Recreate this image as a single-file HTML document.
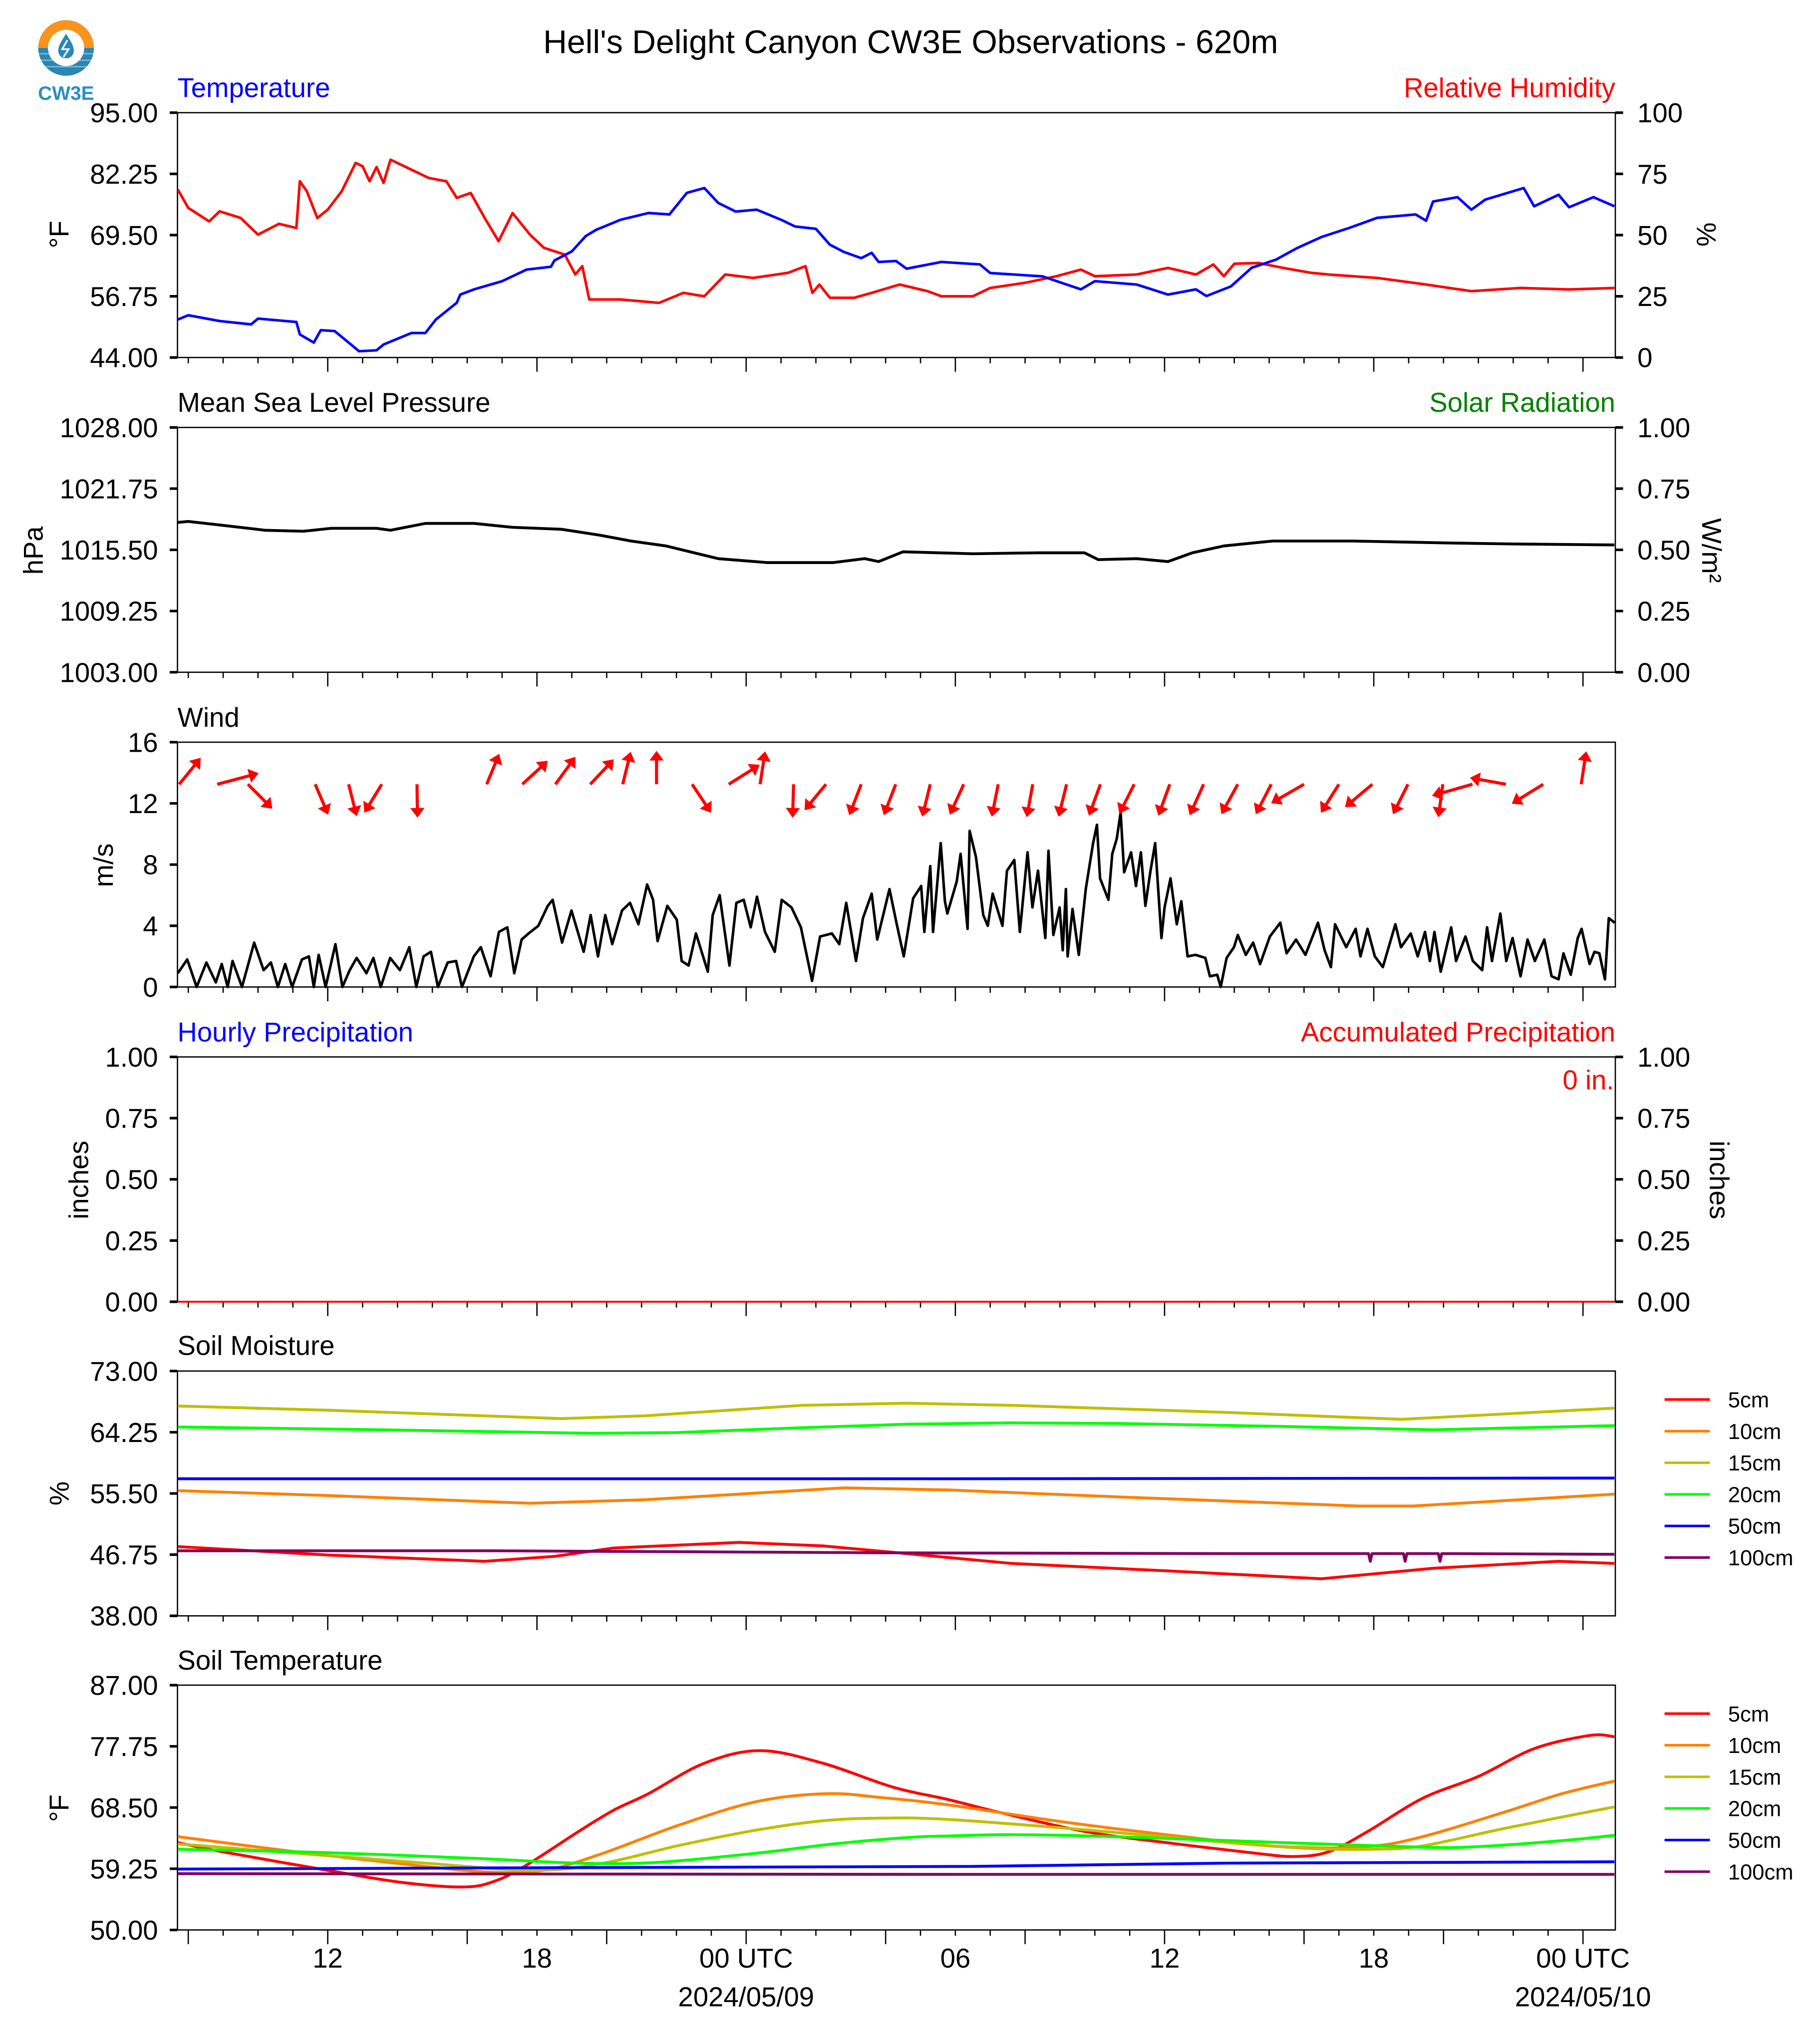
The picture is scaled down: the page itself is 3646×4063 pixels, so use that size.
<!DOCTYPE html>
<html><head><meta charset="utf-8"><title>Hell's Delight Canyon CW3E Observations</title>
<style>
html,body{margin:0;padding:0;background:#fff;}
svg{display:block;font-family:"Liberation Sans",sans-serif;}
</style></head>
<body>
<svg id="fig" xmlns="http://www.w3.org/2000/svg" width="3646" height="4063" viewBox="0 0 1405 1565.7" preserveAspectRatio="none">
<rect x="0" y="0" width="1405" height="1566" fill="#fff"/>
<g>
  <clipPath id="logoClip"><circle cx="51" cy="37" r="21.5"/></clipPath>
  <g clip-path="url(#logoClip)">
    <rect x="29" y="15" width="44" height="22" fill="#f7941d"/>
    <rect x="29" y="37" width="44" height="22" fill="#2a86b3"/>
    <rect x="29" y="41" width="44" height="1" fill="#7fbcd8"/>
    <rect x="29" y="46" width="44" height="1" fill="#7fbcd8"/>
    <rect x="29" y="51" width="44" height="1" fill="#7fbcd8"/>
  </g>
  <circle cx="51" cy="37" r="14" fill="#fff"/>
  <path d="M51 26 C48 31 45 35 45 39 C45 43 48 45 51 45 C54 45 57 43 57 39 C57 35 54 31 51 26 Z" fill="#2a86b3"/>
  <path d="M52 31 L48 38 L53 38 L49 44" stroke="#fff" stroke-width="1.3" fill="none"/>
  <text x="51" y="77" text-anchor="middle" font-size="15" font-weight="bold" fill="#2a8fc0">CW3E</text>
</g>
<text x="703" y="41" text-anchor="middle" font-size="25.5" fill="#000">Hell's Delight Canyon CW3E Observations - 620m</text>
<g id="layer"></g>
</svg>
<script>
// ---------------- data (time in hours since 2024-05-08 00 UTC) ----------------
const tempSeries = [[7.7,51.9],[8.0,52.8],[8.9,51.6],[9.8,50.9],[10.0,52.1],[11.1,51.4],[11.2,48.8],[11.6,47.1],[11.8,49.7],[12.2,49.5],[12.9,45.3],[13.4,45.5],[13.6,46.7],[14.4,49.1],[14.8,49.1],[15.1,51.9],[15.7,55.4],[15.8,57.1],[16.2,58.2],[17.0,59.9],[17.7,62.3],[18.4,62.9],[18.5,64.2],[19.0,66.1],[19.4,69.3],[19.7,70.6],[20.4,72.7],[21.2,74.1],[21.8,73.8],[22.3,78.3],[22.8,79.3],[23.2,76.2],[23.7,74.4],[24.3,74.8],[25.0,72.7],[25.4,71.3],[26.0,70.8],[26.4,67.5],[26.8,66.0],[27.3,64.7],[27.6,65.8],[27.8,63.9],[28.3,64.1],[28.6,62.5],[29.6,63.9],[30.7,63.4],[31.0,61.6],[32.5,60.9],[33.6,58.2],[34.0,59.9],[35.2,59.2],[36.1,57.1],[36.9,58.2],[37.2,56.8],[37.9,58.8],[38.5,62.7],[39.2,64.4],[39.8,66.8],[40.5,69.1],[41.3,71.0],[42.1,73.1],[43.2,73.8],[43.5,72.5],[43.7,76.5],[44.4,77.4],[44.8,74.8],[45.2,76.9],[46.3,79.3],[46.6,75.5],[47.3,77.9],[47.6,75.3],[48.3,77.4],[48.9,75.5]];
const rhSeries = [[7.7,68.6],[8.0,61.1],[8.6,55.6],[8.9,59.7],[9.5,57.0],[10.0,50.2],[10.6,54.6],[11.1,52.9],[11.2,72.0],[11.4,67.9],[11.7,57.0],[12.0,60.4],[12.4,67.9],[12.8,79.5],[13.0,78.1],[13.2,72.0],[13.4,77.8],[13.6,71.3],[13.8,80.8],[14.3,77.4],[14.9,73.3],[15.4,72.0],[15.7,65.2],[16.1,67.2],[16.5,57.0],[16.9,47.5],[17.3,59.0],[17.8,50.2],[18.2,44.8],[18.8,42.0],[19.1,33.9],[19.3,37.3],[19.5,23.7],[20.4,23.7],[21.5,22.3],[22.2,26.4],[22.8,25.0],[23.4,33.9],[24.2,32.5],[25.2,34.6],[25.7,37.3],[25.9,26.4],[26.1,29.8],[26.4,24.4],[27.1,24.4],[27.6,26.4],[28.4,29.8],[29.2,27.1],[29.6,25.0],[30.5,25.0],[31.0,28.4],[32.0,30.5],[32.9,33.2],[33.6,35.9],[34.0,33.2],[35.2,33.9],[36.1,36.6],[36.9,33.9],[37.4,38.0],[37.7,33.2],[38.0,38.3],[38.7,38.6],[39.4,36.6],[40.2,34.6],[40.7,33.9],[42.1,32.5],[43.5,29.8],[44.8,27.1],[46.2,28.4],[47.6,27.8],[48.9,28.4]];
const pressureSeries = [[7.7,1018.3],[8.0,1018.4],[9.0,1018.0],[10.2,1017.5],[11.3,1017.4],[12.1,1017.7],[13.4,1017.7],[13.8,1017.5],[14.8,1018.2],[16.2,1018.2],[17.3,1017.8],[18.7,1017.6],[19.8,1017.0],[20.7,1016.4],[21.7,1015.9],[23.2,1014.6],[24.6,1014.2],[26.5,1014.2],[27.4,1014.6],[27.8,1014.3],[28.5,1015.3],[30.5,1015.1],[32.4,1015.2],[33.7,1015.2],[34.1,1014.5],[35.2,1014.6],[36.1,1014.3],[36.8,1015.2],[37.7,1015.9],[39.1,1016.4],[41.4,1016.4],[44.2,1016.2],[46.0,1016.1],[48.9,1016.0]];
const windSpeedSeries = [[7.70,0.9],[7.97,1.8],[8.24,0],[8.52,1.6],[8.79,0.3],[8.96,1.5],[9.13,0],[9.27,1.7],[9.54,0],[9.89,2.9],[10.16,1.1],[10.37,1.6],[10.57,0],[10.78,1.5],[10.98,0],[11.26,1.8],[11.46,2.0],[11.60,0],[11.74,2.1],[11.94,0],[12.22,2.8],[12.42,0],[12.63,1.1],[12.83,1.9],[13.11,0.9],[13.31,1.9],[13.52,0],[13.79,1.9],[14.07,1.1],[14.34,2.6],[14.54,0],[14.75,2.0],[14.96,2.3],[15.16,0],[15.44,1.6],[15.68,1.7],[15.85,0],[16.19,2.0],[16.39,2.6],[16.67,0.7],[16.91,3.6],[17.15,3.9],[17.35,0.9],[17.56,3.1],[17.76,3.5],[18.04,4.0],[18.31,5.3],[18.45,5.7],[18.72,2.9],[18.99,5.0],[19.34,2.3],[19.54,4.7],[19.75,2.0],[19.96,4.7],[20.16,2.8],[20.44,5.0],[20.67,5.5],[20.91,4.1],[21.16,6.7],[21.33,5.7],[21.46,3.0],[21.74,5.3],[22.01,4.4],[22.15,1.7],[22.35,1.4],[22.56,3.5],[22.90,1.0],[23.04,4.7],[23.24,6.0],[23.52,1.4],[23.72,5.5],[23.93,5.7],[24.13,3.9],[24.31,5.9],[24.54,3.6],[24.82,2.3],[25.02,5.7],[25.30,5.2],[25.57,3.9],[25.89,0.4],[26.12,3.3],[26.46,3.5],[26.67,2.8],[26.87,5.5],[27.15,1.7],[27.35,4.5],[27.60,6.1],[27.76,3.1],[28.11,6.4],[28.31,4.2],[28.52,2.0],[28.79,5.8],[29.02,6.6],[29.11,3.6],[29.28,7.9],[29.36,3.6],[29.58,9.4],[29.70,5.6],[29.77,4.8],[30.04,6.9],[30.15,8.7],[30.35,3.8],[30.41,10.2],[30.59,8.5],[30.80,4.7],[30.93,4.0],[31.07,6.1],[31.35,4.0],[31.48,7.6],[31.69,8.3],[31.85,3.6],[32.07,8.8],[32.21,5.2],[32.37,7.6],[32.58,3.2],[32.67,8.9],[32.81,3.4],[32.99,5.2],[33.08,2.4],[33.17,6.4],[33.22,2.0],[33.36,5.1],[33.54,2.1],[33.74,6.4],[33.95,9.4],[34.06,10.6],[34.15,7.1],[34.39,5.7],[34.50,8.7],[34.63,9.7],[34.74,11.4],[34.84,7.5],[35.04,8.8],[35.18,6.6],[35.32,8.8],[35.45,5.3],[35.59,7.5],[35.73,9.4],[35.91,3.2],[36.00,5.2],[36.17,7.1],[36.35,4.1],[36.48,5.6],[36.66,2.0],[36.89,2.1],[37.17,1.9],[37.30,0.7],[37.51,0.8],[37.61,0],[37.78,1.9],[37.99,2.6],[38.10,3.4],[38.33,2.1],[38.54,2.9],[38.74,1.5],[39.02,3.3],[39.32,4.2],[39.50,2.2],[39.77,3.1],[40.04,2.1],[40.40,4.2],[40.59,2.4],[40.77,1.3],[40.89,4.1],[41.21,2.6],[41.48,3.8],[41.62,2.0],[41.82,3.8],[42.03,2.0],[42.26,1.3],[42.62,4.1],[42.78,2.6],[43.06,3.5],[43.26,2.0],[43.47,3.6],[43.61,1.7],[43.74,3.6],[43.92,1.0],[44.22,3.9],[44.36,1.7],[44.63,3.3],[44.84,1.7],[45.11,1.1],[45.25,3.9],[45.39,1.7],[45.63,4.8],[45.80,1.7],[45.98,3.2],[46.21,0.7],[46.41,3.1],[46.62,1.7],[46.89,3.1],[47.10,0.7],[47.30,0.5],[47.44,2.2],[47.65,0.8],[47.85,3.2],[47.96,3.8],[48.19,1.5],[48.33,2.3],[48.47,2.2],[48.63,0.5],[48.74,4.5],[48.91,4.2]];
const windArrowTimes = [7.74,8.83,9.71,11.64,12.60,13.55,14.56,16.56,17.58,18.53,19.53,20.46,21.43,22.45,23.50,24.40,25.36,26.29,27.30,28.29,29.28,30.24,31.23,32.22,33.19,34.16,35.13,36.15,37.12,38.10,39.06,40.00,41.00,41.96,42.98,43.98,44.83,45.79,46.86,47.95];
const windArrowU = [4.3,8.3,4.9,2.6,1.6,-3.5,0.1,2.5,5.1,4.0,4.7,1.6,0,3.8,6.2,1.0,-0.2,-4.3,-2.4,-2.4,-1.6,-2.8,-1.3,-1.2,-1.6,-2.3,-3.0,-2.3,-2.8,-3.3,-3.1,-6.6,-3.6,-5.5,-3.0,-0.9,-8.1,-7.2,-6.3,1.0];
const windArrowV = [5.3,2.2,-4.9,-6.1,-6.4,-5.7,-6.7,6.1,4.7,5.5,5.0,6.5,6.7,-5.7,3.9,6.6,-6.7,-5.2,-6.2,-6.2,-6.5,-6.1,-6.5,-6.6,-6.5,-6.3,-5.9,-6.3,-6.2,-6.0,-6.0,-3.8,-5.7,-4.6,-6.0,-6.6,-2.3,1.3,-3.9,6.6];
const hourlyPrecipSeries = [[7.7,0],[48.9,0]];
const soilMoistureLabels = ["5cm","10cm","15cm","20cm","50cm","100cm"];
const sm5 = [[7.7,47.9],[12.0,46.7],[16.5,45.8],[18.5,46.5],[20.2,47.7],[23.8,48.5],[26.2,48.0],[28.6,46.9],[31.6,45.5],[36.2,44.4],[40.5,43.3],[43.7,44.8],[47.3,45.8],[48.9,45.5]];
const sm10 = [[7.7,55.9],[12.0,55.2],[17.8,54.1],[21.1,54.6],[26.8,56.3],[29.8,56.0],[34.7,55.0],[41.6,53.7],[43.1,53.7],[45.5,54.4],[48.9,55.4]];
const sm15 = [[7.7,68.0],[12.0,67.4],[18.7,66.2],[21.1,66.6],[25.6,68.1],[28.6,68.4],[31.6,68.1],[37.7,67.1],[40.7,66.5],[42.8,66.1],[45.5,66.8],[48.9,67.7]];
const sm20 = [[7.7,65.0],[13.5,64.6],[19.6,64.1],[22.0,64.2],[25.6,64.9],[28.6,65.4],[31.6,65.6],[34.7,65.5],[39.2,65.1],[43.7,64.6],[48.9,65.2]];
const sm50 = [[7.7,57.6],[30.0,57.6],[48.9,57.7]];
const sm100 = [[7.7,47.3],[16.8,47.3],[28.6,47.0],[37.7,46.9],[41.85,46.9],[41.9,45.8],[41.95,46.9],[42.85,46.9],[42.9,45.8],[42.95,46.9],[43.85,46.9],[43.9,45.8],[43.95,46.9],[48.9,46.8]];
const st5 = [[7.7,63.2],[9.0,61.8],[11.9,59.1],[14.1,57.2],[15.9,56.5],[16.8,57.4],[17.7,59.8],[19.2,64.9],[20.2,68.1],[21.2,70.6],[22.8,75.2],[24.4,77.1],[26.2,75.2],[28.2,71.6],[29.8,69.7],[31.4,67.6],[33.8,64.8],[36.2,63.1],[38.6,61.6],[39.7,61.1],[40.7,61.8],[41.8,64.8],[43.4,69.9],[45.0,73.2],[46.6,77.4],[48.2,79.4],[48.9,79.2]];
const st10 = [[7.7,64.1],[11.1,61.8],[14.8,59.6],[16.8,58.7],[18.3,59.1],[19.9,61.6],[22.1,65.9],[24.3,69.4],[26.3,70.6],[27.9,70.0],[29.8,68.9],[33.0,66.4],[36.2,64.3],[39.4,62.6],[41.8,62.6],[43.4,64.1],[45.8,67.9],[47.4,70.6],[48.9,72.5]];
const st15 = [[7.7,63.0],[11.1,61.6],[14.8,60.1],[17.9,59.0],[19.9,60.1],[22.1,62.8],[24.3,65.1],[26.2,66.5],[27.9,66.9],[29.8,66.7],[33.8,65.1],[37.8,63.2],[40.2,62.3],[42.0,62.2],[43.4,62.7],[45.8,65.4],[48.9,68.6]];
const st20 = [[7.7,62.2],[11.9,61.7],[16.3,60.8],[19.2,60.1],[21.4,60.2],[24.3,61.6],[26.5,63.0],[28.7,64.0],[29.8,64.2],[31.7,64.4],[34.6,64.1],[39.4,63.2],[43.4,62.5],[45.0,62.6],[47.4,63.5],[48.9,64.3]];
const st50 = [[7.7,59.2],[18.0,59.4],[30.4,59.6],[37.8,60.1],[48.9,60.3]];
const st100 = [[7.7,58.5],[30.0,58.4],[48.9,58.4]];
const xTickLabels = ["12","18","00 UTC","06","12","18","00 UTC"];
const xTickHours = [12,18,24,30,36,42,48];
const tempTicks = ["95.00","82.25","69.50","56.75","44.00"];
const rhTicks = ["100","75","50","25","0"];
const pressTicks = ["1028.00","1021.75","1015.50","1009.25","1003.00"];
const solarTicks = ["1.00","0.75","0.50","0.25","0.00"];
const windTicks = ["16","12","8","4","0"];
const precipTicks = ["1.00","0.75","0.50","0.25","0.00"];
const smTicks = ["73.00","64.25","55.50","46.75","38.00"];
const stTicks = ["87.00","77.75","68.50","59.25","50.00"];

// ---------------- layout ----------------
const NS = "http://www.w3.org/2000/svg";
const layer = document.getElementById("layer");
const L = 137, R = 1247, H = 189, T0 = 7.69, PXH = 26.917;
const FS = 21;
const tops = [87, 330, 573, 816, 1058.5, 1301];
function xOf(t){ return L + (t - T0) * PXH; }
function yScale(p, min, max){ return v => tops[p] + H * (max - v) / (max - min); }
function mk(tag, attrs, parent){ const e = document.createElementNS(NS, tag); for (const k in attrs) e.setAttribute(k, attrs[k]); (parent || layer).appendChild(e); return e; }
function txt(s, attrs, parent){ const e = mk("text", attrs, parent); e.textContent = s; return e; }

const clipDefs = mk("defs", {});
tops.forEach((tp, i) => {
  const cp = mk("clipPath", {id: "clip" + i}, clipDefs);
  mk("rect", {x: L, y: tp - 1, width: R - L, height: H + 2}, cp);
});

function pathFrom(pairs, ys, smooth){
  const pts = pairs.map(p => [xOf(p[0]), ys(p[1])]);
  if (!smooth) return "M" + pts.map(p => p[0].toFixed(2) + " " + p[1].toFixed(2)).join(" L");
  let d = "M" + pts[0][0].toFixed(2) + " " + pts[0][1].toFixed(2);
  for (let i = 0; i < pts.length - 1; i++) {
    const p0 = pts[Math.max(0, i - 1)], p1 = pts[i], p2 = pts[i + 1], p3 = pts[Math.min(pts.length - 1, i + 2)];
    const c1 = [p1[0] + (p2[0] - p0[0]) / 6, p1[1] + (p2[1] - p0[1]) / 6];
    const c2 = [p2[0] - (p3[0] - p1[0]) / 6, p2[1] - (p3[1] - p1[1]) / 6];
    d += " C" + c1[0].toFixed(2) + " " + c1[1].toFixed(2) + " " + c2[0].toFixed(2) + " " + c2[1].toFixed(2) + " " + p2[0].toFixed(2) + " " + p2[1].toFixed(2);
  }
  return d;
}

function drawPanel(i, name, leftTicks, rightTicks){
  const g = mk("g", {});
  
  
  const tp = tops[i];
  const fr = mk("rect", {x: L, y: tp, width: R - L, height: H, fill: "none", stroke: "#000", "stroke-width": 1}, g);
  
  
  leftTicks.forEach((lab, k) => {
    const y = tp + k * H / 4;
    mk("line", {x1: L - 6, x2: L, y1: y, y2: y, stroke: "#000", "stroke-width": 2}, g);
    const t = txt(lab, {x: 122, y: y + 7.5, "text-anchor": "end", "font-size": FS, fill: "#000"}, g);
    
    
  });
  if (rightTicks) rightTicks.forEach((lab, k) => {
    const y = tp + k * H / 4;
    mk("line", {x1: R, x2: R + 6, y1: y, y2: y, stroke: "#000", "stroke-width": 2}, g);
    const t = txt(lab, {x: 1264, y: y + 7.5, "text-anchor": "start", "font-size": FS, fill: "#000"}, g);
    
    
  });
  const majorEvery = (i === 5) ? 4 : 6;
  for (let h = 8; h <= 48; h++) {
    const x = xOf(h);
    const len = (h % majorEvery === 0) ? 11 : 4.5;
    mk("line", {x1: x, x2: x, y1: tp + H, y2: tp + H + len, stroke: "#000", "stroke-width": 1}, g);
  }
  return g;
}
function label(s, x, y, rot, name, color, anchor){
  const t = txt(s, {x: x, y: y, "text-anchor": anchor || "middle", "font-size": FS, fill: color || "#000", transform: rot ? "rotate(" + rot + " " + x + " " + y + ")" : ""});
  
  
  return t;
}
function series(pairs, ys, color, w, i, name, smooth){
  const p = mk("path", {d: pathFrom(pairs, ys, smooth), fill: "none", stroke: color, "stroke-width": w, "stroke-linejoin": "round", "clip-path": "url(#clip" + i + ")"});
  
  
  return p;
}

// Panel 1: temperature / RH
drawPanel(0, "temperature", tempTicks, rhTicks);
label("Temperature", L, 75, 0, "temperature-title", "#0000ff", "start");
label("Relative Humidity", R, 75, 0, "humidity-title", "#ff0000", "end");
label("°F", 53, 181, -90, "temperature-y-axis-title");
label("%", 1310, 181, 90, "humidity-y-axis-title");
const yT = yScale(0, 44, 95), yRH = yScale(0, 0, 100);
series(rhSeries, yRH, "#ff0000", 2, 0, "humidity-line");
series(tempSeries, yT, "#0000ff", 2, 0, "temperature-line");

// Panel 2: pressure
drawPanel(1, "pressure", pressTicks, solarTicks);
label("Mean Sea Level Pressure", L, 318, 0, "pressure-title", "#000", "start");
label("Solar Radiation", R, 318, 0, "solar-title", "#008000", "end");
label("hPa", 33, 425, -90, "pressure-y-axis-title");
label("W/m²", 1314, 425, 90, "solar-y-axis-title");
series(pressureSeries, yScale(1, 1003, 1028), "#000", 2.2, 1, "pressure-line");

// Panel 3: wind
drawPanel(2, "wind", windTicks, null);
label("Wind", L, 561, 0, "wind-title", "#000", "start");
label("m/s", 87, 668, -90, "wind-y-axis-title");
const yW = yScale(2, 0, 16);
series(windSpeedSeries, yW, "#000", 2, 2, "wind-speed-line");
const arrowScale = 3.854;
windArrowTimes.forEach((t, k) => {
  const x0 = xOf(t), y0 = yW(13.25);
  const dx = windArrowU[k] * arrowScale, dy = -windArrowV[k] * arrowScale;
  const len = Math.hypot(dx, dy), ux = dx / len, uy = dy / len, px = -uy, py = ux;
  const hl = 7.5, hw = 5.5, sw = 1.2;
  const bx = x0 + ux * (len - hl), by = y0 + uy * (len - hl);
  const pts = [[x0 + px * sw, y0 + py * sw], [bx + px * sw, by + py * sw], [bx + px * hw, by + py * hw], [x0 + dx, y0 + dy], [bx - px * hw, by - py * hw], [bx - px * sw, by - py * sw], [x0 - px * sw, y0 - py * sw]];
  const a = mk("polygon", {points: pts.map(p => p[0].toFixed(2) + "," + p[1].toFixed(2)).join(" "), fill: "#ff0000"});
  
  
});

// Panel 4: precipitation
drawPanel(3, "precipitation", precipTicks, precipTicks);
label("Hourly Precipitation", L, 804, 0, "hourly-precip-title", "#0000ff", "start");
label("Accumulated Precipitation", R, 804, 0, "accumulated-precip-title", "#ff0000", "end");
label("inches", 68, 911, -90, "precip-y-axis-title");
label("inches", 1320, 911, 90, "accum-y-axis-title");
label("0 in.", 1246, 841, 0, "accumulated-total-label", "#ff0000", "end");
series(hourlyPrecipSeries, yScale(3, 0, 1), "#ff0000", 1.5, 3, "precip-line");

// Panel 5: soil moisture
drawPanel(4, "soil-moisture", smTicks, null);
label("Soil Moisture", L, 1046, 0, "soil-moisture-title", "#000", "start");
label("%", 53, 1153, -90, "soil-moisture-y-axis-title");
const colors = ["#ff0000", "#ff8000", "#bfbf00", "#00ff00", "#0000ff", "#800060"];
const yS = yScale(4, 38, 73);
[sm5, sm10, sm15, sm20, sm50, sm100].forEach((s, k) => series(s, yS, colors[k], 2.2, 4, "soil-moisture-" + soilMoistureLabels[k] + "-line"));

// Panel 6: soil temperature
drawPanel(5, "soil-temperature", stTicks, null);
label("Soil Temperature", L, 1289, 0, "soil-temperature-title", "#000", "start");
label("°F", 53, 1396, -90, "soil-temperature-y-axis-title");
const ySt = yScale(5, 50, 87);
[st5, st10, st15, st20, st50, st100].forEach((s, k) => series(s, ySt, colors[k], 2.2, 5, "soil-temperature-" + soilMoistureLabels[k] + "-line", k < 4));

// Legends
[1058.5, 1301].forEach((tp, li) => {
  soilMoistureLabels.forEach((lab, k) => {
    const y = tp + 22 + k * 24.4;
    const l = mk("line", {x1: 1285, x2: 1320, y1: y, y2: y, stroke: colors[k], "stroke-width": 2});
    
    
    const t = txt(lab, {x: 1334, y: y + 6, "font-size": 16.8, fill: "#000"});
    
    
  });
});

// X tick labels
xTickHours.forEach((h, k) => {
  const t = txt(xTickLabels[k], {x: xOf(h), y: 1519, "text-anchor": "middle", "font-size": FS, fill: "#000"});
  
  
});
[["2024/05/09", 24], ["2024/05/10", 48]].forEach(d => {
  const t = txt(d[0], {x: xOf(d[1]), y: 1549, "text-anchor": "middle", "font-size": FS, fill: "#000"});
  
  
});
</script>
</body></html>
